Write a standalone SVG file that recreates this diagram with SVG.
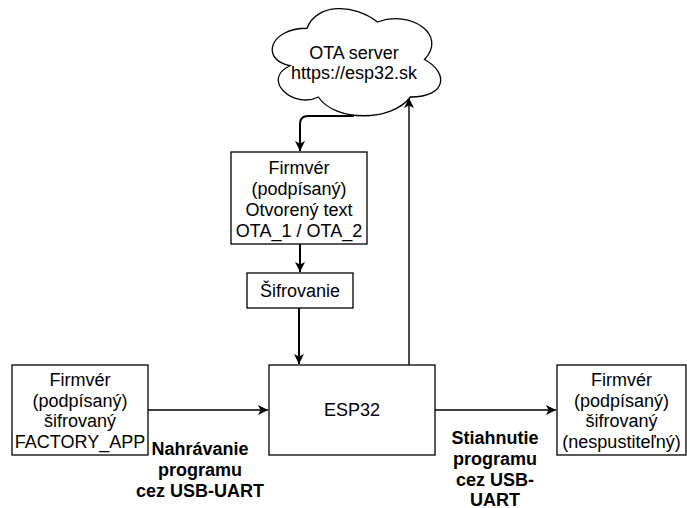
<svg xmlns="http://www.w3.org/2000/svg" width="687" height="508" viewBox="0 0 687 508">
<style>
.box{fill:#fff;stroke:#000;stroke-width:1.3}
.t{font-family:"Liberation Sans",Arial,sans-serif;font-size:18px;fill:#000;text-anchor:middle}
.b{font-weight:bold}
.c{fill:none;stroke:#000;stroke-width:1.4}
.k{stroke-width:2}
</style>
<defs>
<marker id="ah" viewBox="0 0 10 10" refX="10" refY="5" markerWidth="10" markerHeight="10" markerUnits="userSpaceOnUse" orient="auto">
<path d="M0,0 L10,5 L0,10 L2.5,5 Z" fill="#000"/>
</marker>
</defs>
<rect width="687" height="508" fill="#fff"/>
<g id="connectors">
<path class="c k" d="M354,116 L308,116 Q300,116 300,124 L300,151" marker-end="url(#ah)"/>
<path class="c k" d="M300,244 L300,272" marker-end="url(#ah)"/>
<path class="c k" d="M299,308 L299,364" marker-end="url(#ah)"/>
<path class="c" d="M409,365 L409,98" marker-end="url(#ah)"/>
<path class="c" d="M148,410 L268,410" marker-end="url(#ah)"/>
<path class="c" d="M435,410 L556,410" marker-end="url(#ah)"/>
</g>
<g id="cloud">
<path class="box" d="M307,28.25 C269.4,28.25 260,59.5 290.1,65.75 C260,79.5 293.8,109.5 318.3,97 C335.2,122 391.6,122 410.4,97 C448,97 448,72 424.5,59.5 C448,34.5 410.4,9.5 377.5,22 C354,3.25 316.4,3.25 307,28.25 Z"/>
<text class="t" x="354" y="59">OTA server</text>
<text class="t" x="354" y="79">https://esp32.sk</text>
</g>
<g id="fw-ota">
<rect class="box" x="231" y="152" width="136" height="92"/>
<text class="t" x="299" y="173.5">Firmvér</text>
<text class="t" x="299" y="194.5">(podpísaný)</text>
<text class="t" x="299" y="215.5">Otvorený text</text>
<text class="t" x="299" y="236.5">OTA_1 / OTA_2</text>
</g>
<g id="sifrovanie">
<rect class="box" x="247" y="273" width="106" height="35"/>
<text class="t" x="300" y="297">Šifrovanie</text>
</g>
<g id="esp32">
<rect class="box" x="269" y="365" width="166" height="90"/>
<text class="t" x="352" y="416">ESP32</text>
</g>
<g id="fw-factory">
<rect class="box" x="12" y="365" width="136" height="90"/>
<text class="t" x="80" y="385.5">Firmvér</text>
<text class="t" x="80" y="406.5">(podpísaný)</text>
<text class="t" x="80" y="427">šifrovaný</text>
<text class="t" x="80" y="447.5">FACTORY_APP</text>
</g>
<g id="fw-download">
<rect class="box" x="557" y="365" width="129" height="90"/>
<text class="t" x="621.5" y="385.5">Firmvér</text>
<text class="t" x="621.5" y="406.5">(podpísaný)</text>
<text class="t" x="621.5" y="427">šifrovaný</text>
<text class="t" x="621.5" y="447.5">(nespustiteľný)</text>
</g>
<g id="label-upload">
<text class="t b" x="200" y="455">Nahrávanie</text>
<text class="t b" x="200" y="476">programu</text>
<text class="t b" x="200" y="497">cez USB-UART</text>
</g>
<g id="label-download">
<text class="t b" x="495" y="444">Stiahnutie</text>
<text class="t b" x="495" y="465">programu</text>
<text class="t b" x="495" y="486">cez USB-</text>
<text class="t b" x="495" y="506">UART</text>
</g>
</svg>
